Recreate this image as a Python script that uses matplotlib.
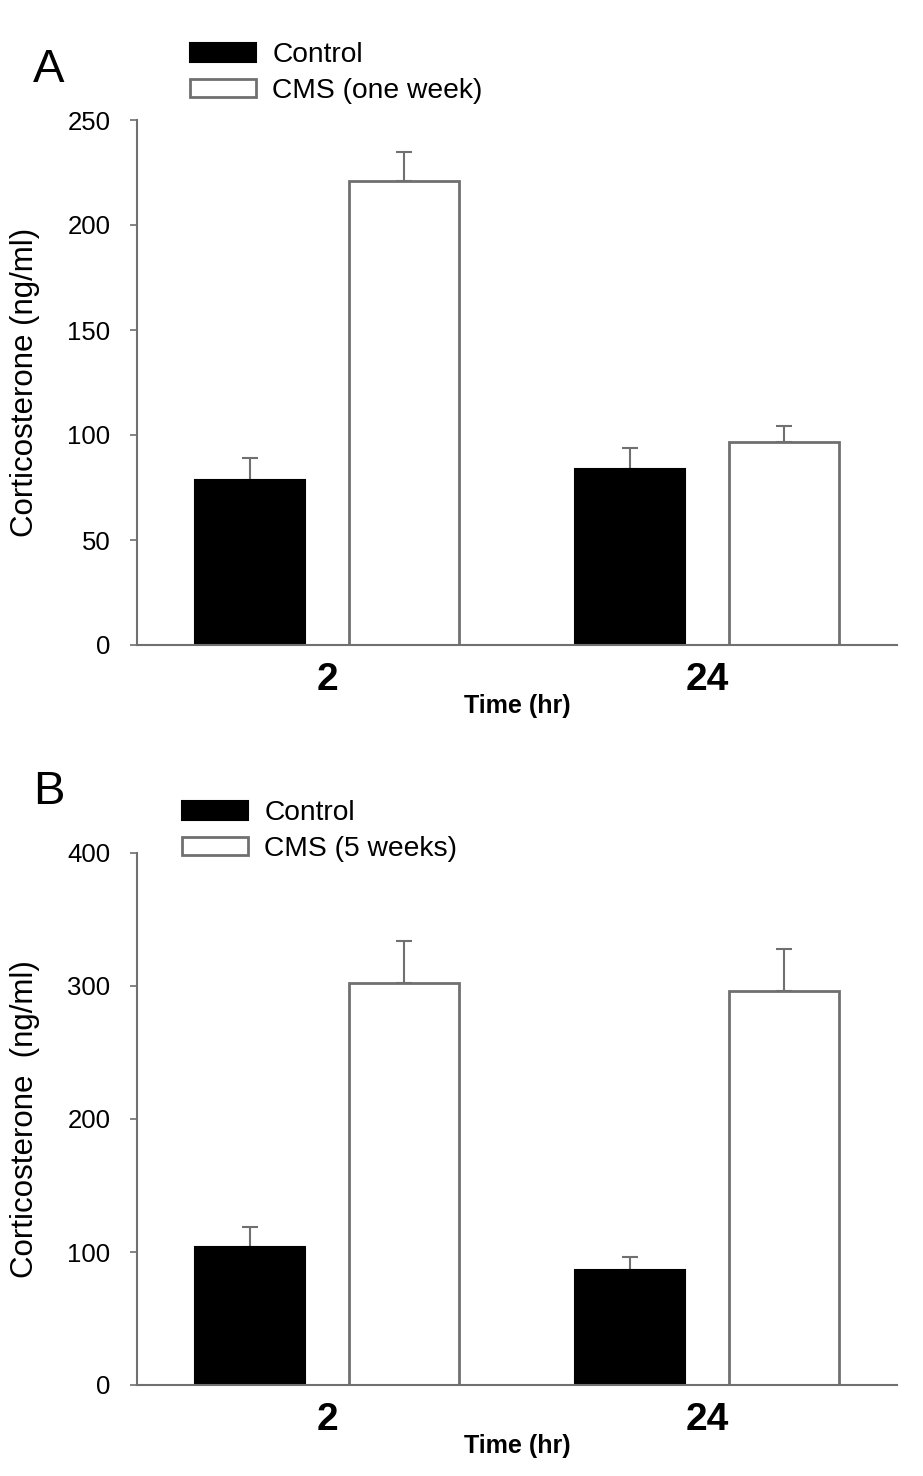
import matplotlib.pyplot as plt
import numpy as np

groups = ["2", "24"]

# panel A: one week of CMS
labels_a = ["Control", "CMS (one week)"]
ctrl_a = [78.5, 84]
ctrl_a_err = [10.5, 10]
cms_a = [221, 96.5]
cms_a_err = [14, 8]

# panel B: five weeks of CMS
labels_b = ["Control", "CMS (5 weeks)"]
ctrl_b = [104, 86.5]
ctrl_b_err = [15, 9.5]
cms_b = [302.5, 296.5]
cms_b_err = [31.5, 31]

grey = "#707070"
narrow = ["Liberation Sans Narrow", "Liberation Sans"]
plt.rcParams["font.family"] = ["Liberation Sans", "DejaVu Sans"]

fig = plt.figure(figsize=(9.23, 14.76), dpi=100)
W, H = 923, 1476


def panel(rect, ctrl, ctrl_err, cms, cms_err, labels, ymax, ystep, ylabel, letter, letter_y, leg_xy):
    ax = fig.add_axes(rect)
    x = np.arange(len(groups))
    w = 0.29
    off = 0.203
    b1 = ax.bar(x - off, ctrl, w, color="black", edgecolor="black", linewidth=1.5, label=labels[0])
    b2 = ax.bar(x + off, cms, w, color="white", edgecolor=grey, linewidth=2, label=labels[1])
    ax.errorbar(x - off, ctrl, yerr=[np.zeros(2), ctrl_err], fmt="none",
                ecolor=grey, elinewidth=1.5, capsize=5.5, capthick=1.5, zorder=1)
    ax.errorbar(x + off, cms, yerr=[np.zeros(2), cms_err], fmt="none",
                ecolor=grey, elinewidth=1.5, capsize=5.5, capthick=1.5, zorder=1)
    for b in list(b1) + list(b2):
        b.set_zorder(2)

    ax.set_xlim(-0.5, 1.5)
    ax.set_ylim(0, ymax)
    ax.set_yticks(np.arange(0, ymax + 1, ystep))
    ax.set_xticks(x)
    ax.set_xticklabels(groups, family=narrow, fontweight="bold", fontsize=28)
    ax.tick_params(axis="x", length=0, pad=12)
    ax.tick_params(axis="y", length=5, width=1.2, color=grey, labelsize=18.5, pad=14)
    for s in ["top", "right"]:
        ax.spines[s].set_visible(False)
    for s in ["left", "bottom"]:
        ax.spines[s].set_color(grey)
        ax.spines[s].set_linewidth(1.5)
    ax.spines["left"].set_bounds(0, ymax)

    ax.set_xlabel("Time (hr)", family=narrow, fontweight="bold", fontsize=18, labelpad=-3)
    ax.set_ylabel(ylabel, fontsize=22.5)
    ax.yaxis.set_label_coords(-0.128, 0.5)

    fig.text(33 / W, 1 - letter_y / H, letter, fontsize=34, va="center", ha="left")

    ax.legend(handles=[b1, b2], labels=labels, frameon=False, loc="upper left",
              bbox_to_anchor=leg_xy, bbox_transform=fig.transFigure,
              fontsize=20.3, handlelength=2.34, handleheight=0.65,
              handletextpad=0.58, labelspacing=0.35, borderpad=0, borderaxespad=0)
    return ax


panel([137 / W, 1 - 645 / H, 760 / W, 525 / H], ctrl_a, ctrl_a_err, cms_a, cms_a_err,
      labels_a, 250, 50, "Corticosterone (ng/ml)", "A", 70, (190 / W, 1 - 42 / H))
panel([137 / W, 1 - 1385 / H, 760 / W, 532 / H], ctrl_b, ctrl_b_err, cms_b, cms_b_err,
      labels_b, 400, 100, "Corticosterone  (ng/ml)", "B", 792, (182 / W, 1 - 800 / H))

fig.savefig("out.png", dpi=100)
